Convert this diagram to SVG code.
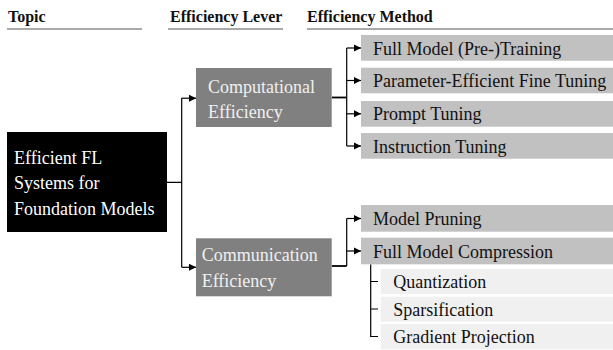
<svg xmlns="http://www.w3.org/2000/svg" width="613" height="350" viewBox="0 0 613 350" font-family="'Liberation Serif', 'Times New Roman', Times, 'DejaVu Serif', serif">
<style>
text{font-family:'Liberation Serif','Times New Roman',Times,'DejaVu Serif',serif;font-size:18px;fill:#111}
.hd{font-weight:bold;font-size:16px}
.topic{fill:#000}
.topic-t{fill:#fff}
.lever{fill:#808080}
.lever-t{fill:#f0f0f0}
.meth{fill:#c1c1c1}
.sub{fill:#f0f0f0}
.ln{fill:none;stroke:#000;stroke-width:1.2}
.ln2{fill:none;stroke:#000;stroke-width:1.8}
.ul{stroke:#555;stroke-width:1.2}
</style>
<defs>
<marker id="ah" markerWidth="8" markerHeight="8" refX="7" refY="4" orient="auto" markerUnits="userSpaceOnUse">
<path d="M0,0.5 L7,4 L0,7.5 Z" fill="#000"/>
</marker>
</defs>
<rect width="613" height="350" fill="#fff"/>
<g id="headers">
<text class="hd" x="8" y="22">Topic</text>
<line class="ul" x1="7" y1="29" x2="142" y2="29"/>
<text class="hd" x="170" y="22">Efficiency Lever</text>
<line class="ul" x1="168" y1="29" x2="283" y2="29"/>
<text class="hd" x="307" y="22">Efficiency Method</text>
<line class="ul" x1="307" y1="29" x2="613" y2="29"/>
</g>
<g id="connectors">
<path class="ln" d="M167,182.3 H181.7 M181.7,98 V267.3"/>
<path class="ln" d="M181.7,98.2 H196" marker-end="url(#ah)"/>
<path class="ln" d="M181.7,267.3 H196" marker-end="url(#ah)"/>
<path class="ln2" d="M331.7,97.5 H346.7"/>
<path class="ln" d="M346.7,48 V146"/>
<path class="ln" d="M346.7,48 H361" marker-end="url(#ah)"/>
<path class="ln" d="M346.7,80.5 H361" marker-end="url(#ah)"/>
<path class="ln" d="M346.7,113.8 H361" marker-end="url(#ah)"/>
<path class="ln" d="M346.7,146 H361" marker-end="url(#ah)"/>
<path class="ln2" d="M331.7,266 H346.7"/>
<path class="ln" d="M346.7,218.5 V266"/>
<path class="ln" d="M346.7,218.5 H361" marker-end="url(#ah)"/>
<path class="ln" d="M346.7,251 H361" marker-end="url(#ah)"/>
<path class="ln" d="M370.7,264.3 V336.5 H378 M370.7,281.5 H378 M370.7,309 H378"/>
</g>
<g id="topic">
<rect class="topic" x="7" y="132" width="160" height="100"/>
<text class="topic-t" x="14" y="163.5">Efficient FL</text>
<text class="topic-t" x="14" y="189">Systems for</text>
<text class="topic-t" x="14" y="214.5">Foundation Models</text>
</g>
<g id="lever-computational">
<rect class="lever" x="196" y="68" width="135.7" height="59"/>
<text class="lever-t" x="208" y="92.5">Computational</text>
<text class="lever-t" x="208" y="118">Efficiency</text>
</g>
<g id="lever-communication">
<rect class="lever" x="196" y="238.3" width="135.7" height="58"/>
<text class="lever-t" x="201.7" y="261">Communication</text>
<text class="lever-t" x="201.7" y="287">Efficiency</text>
</g>
<g id="m-full-training">
<rect class="meth" x="361" y="35" width="252" height="25.7"/>
<text x="373" y="54.5">Full Model (Pre-)Training</text>
</g>
<g id="m-peft">
<rect class="meth" x="361" y="67.7" width="252" height="25.6"/>
<text x="373" y="87">Parameter-Efficient Fine Tuning</text>
</g>
<g id="m-prompt">
<rect class="meth" x="361" y="101" width="252" height="25.7"/>
<text x="373" y="120.3">Prompt Tuning</text>
</g>
<g id="m-instruction">
<rect class="meth" x="361" y="133" width="252" height="25.7"/>
<text x="373" y="152.5">Instruction Tuning</text>
</g>
<g id="m-pruning">
<rect class="meth" x="361" y="205" width="252" height="26.7"/>
<text x="373" y="225">Model Pruning</text>
</g>
<g id="m-compression">
<rect class="meth" x="361" y="237.7" width="252" height="26.6"/>
<text x="373" y="257.5">Full Model Compression</text>
</g>
<g id="s-quantization">
<rect class="sub" x="380.7" y="269" width="232.3" height="25"/>
<text x="393.3" y="288">Quantization</text>
</g>
<g id="s-sparsification">
<rect class="sub" x="380.7" y="296.7" width="232.3" height="25"/>
<text x="393.3" y="315.5">Sparsification</text>
</g>
<g id="s-gradient">
<rect class="sub" x="380.7" y="324" width="232.3" height="25.3"/>
<text x="393.3" y="343">Gradient Projection</text>
</g>
</svg>
